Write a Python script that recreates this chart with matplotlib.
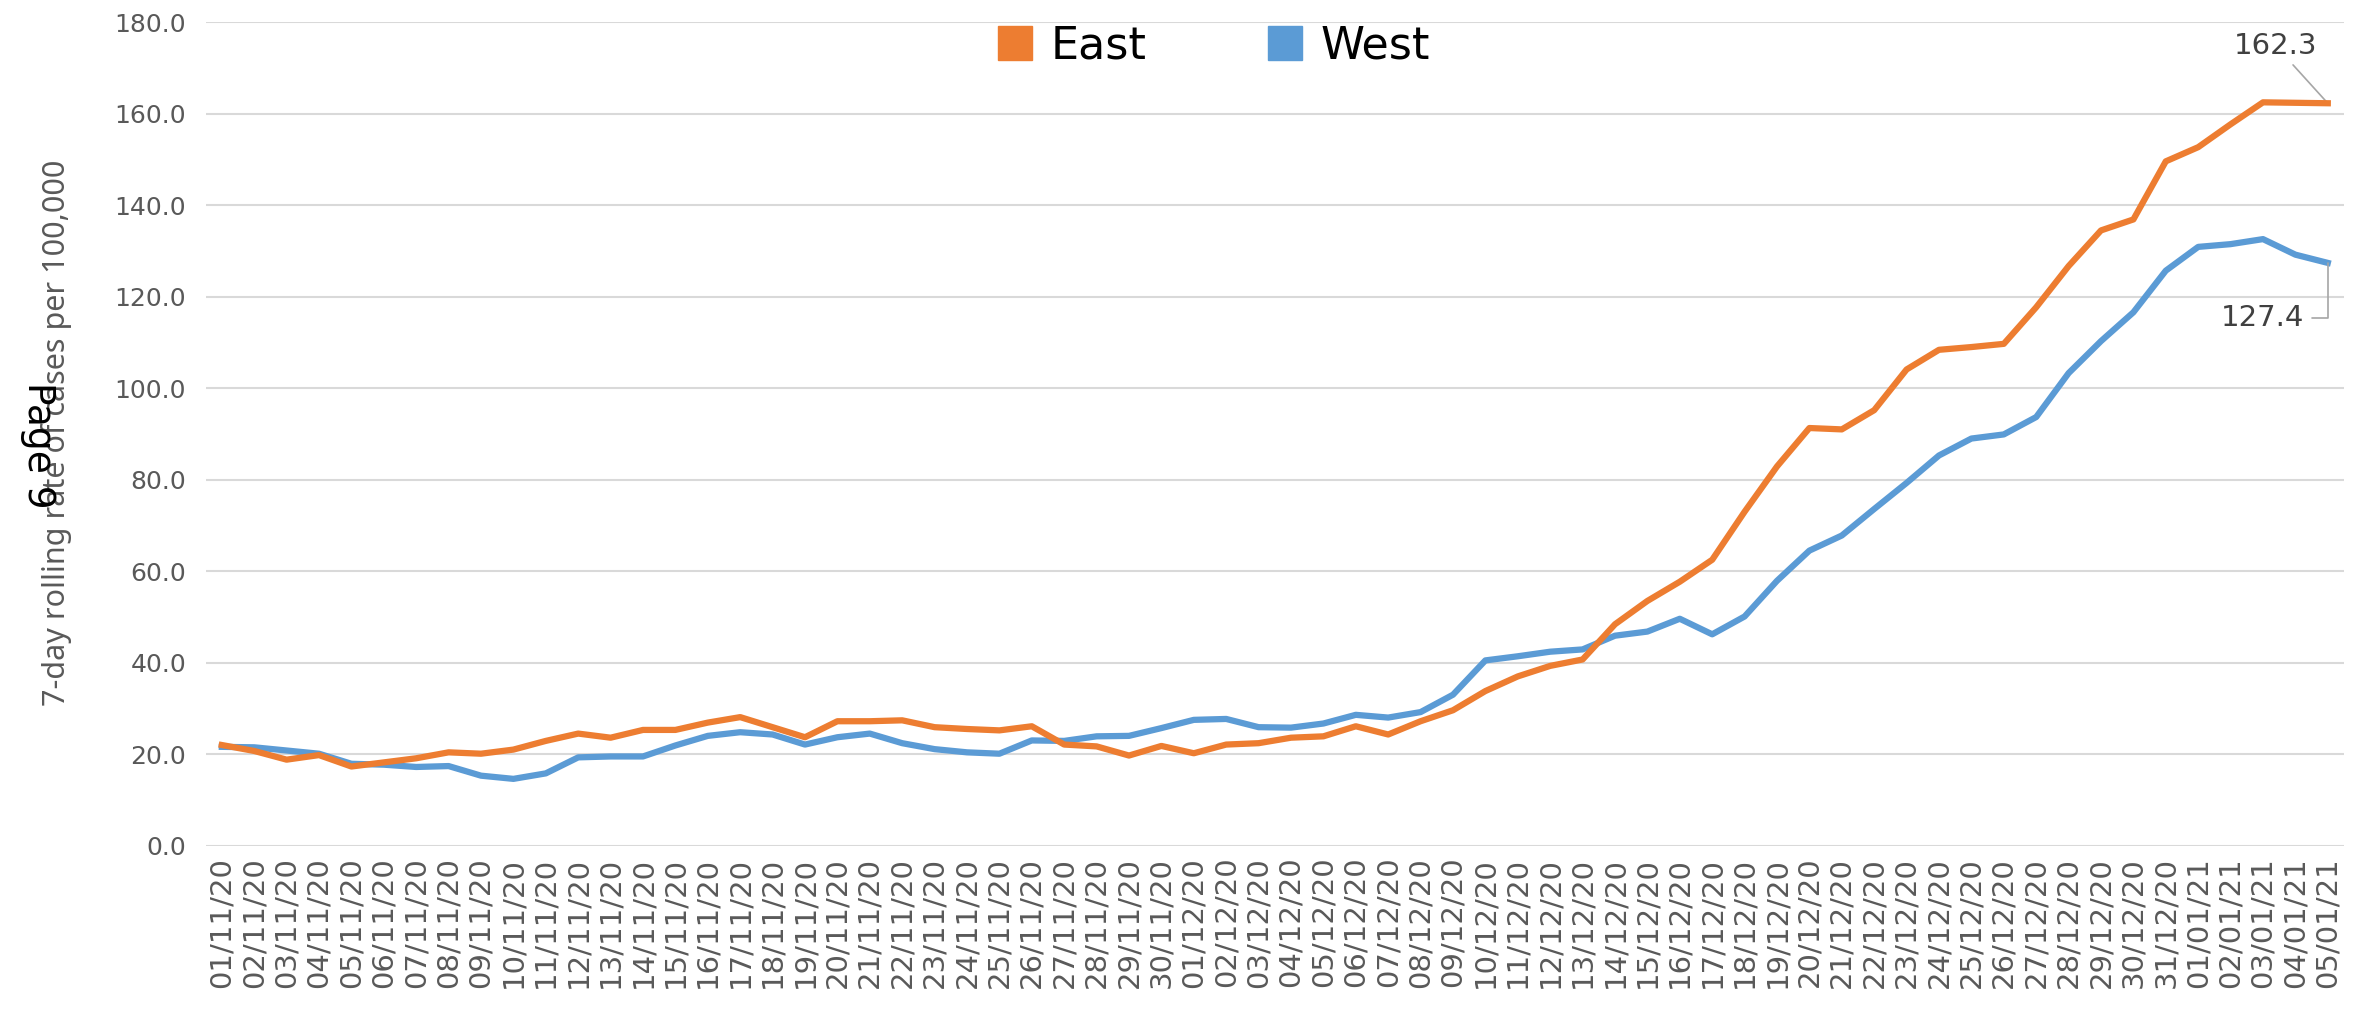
import matplotlib
matplotlib.use("Agg")
import matplotlib.pyplot as plt
from matplotlib.lines import Line2D
import pandas as pd

# 7-day rolling case rates, 01/11/20 .. 05/01/21
dates = pd.date_range("2020-11-01", "2021-01-05", freq="D").strftime("%d/%m/%y").tolist()

east = [22.0, 20.7, 18.8, 19.8, 17.3, 18.2, 19.1, 20.4, 20.1, 21.0,
        22.9, 24.5, 23.6, 25.3, 25.3, 26.9, 28.1, 25.9, 23.7, 27.2,
        27.2, 27.4, 25.9, 25.5, 25.2, 26.1, 22.1, 21.7, 19.7, 21.8,
        20.2, 22.1, 22.4, 23.6, 23.9, 26.1, 24.3, 27.2, 29.6, 33.8,
        37.0, 39.3, 40.7, 48.4, 53.5, 57.7, 62.5, 73.0, 82.9, 91.3,
        91.0, 95.2, 104.1, 108.4, 109.0, 109.7, 117.7, 126.7, 134.5, 136.9,
        149.6, 152.7, 157.7, 162.5, 162.4, 162.3]

west = [21.6, 21.5, 20.8, 20.1, 17.9, 17.7, 17.2, 17.4, 15.3, 14.6,
        15.8, 19.3, 19.5, 19.5, 21.9, 24.0, 24.8, 24.3, 22.1, 23.7,
        24.5, 22.4, 21.1, 20.4, 20.1, 23.0, 22.9, 23.9, 24.0, 25.7,
        27.5, 27.7, 25.9, 25.8, 26.7, 28.6, 28.0, 29.2, 33.0, 40.5,
        41.4, 42.4, 42.9, 45.9, 46.8, 49.6, 46.2, 50.1, 57.9, 64.5,
        67.8, 73.6, 79.3, 85.3, 89.0, 89.9, 93.7, 103.3, 110.3, 116.6,
        125.7, 130.9, 131.5, 132.6, 129.2, 127.4]

EAST_C = "#ED7D31"
WEST_C = "#5B9BD5"
TXT_C = "#595959"

fig = plt.figure(figsize=(23.66, 10.13), dpi=100)
ax = fig.add_axes([0.0869, 0.1652, 0.9038, 0.8128])

x = list(range(len(dates)))
ax.plot(x, west, color=WEST_C, lw=4.5, solid_joinstyle="round", zorder=3)
ax.plot(x, east, color=EAST_C, lw=4.5, solid_joinstyle="round", zorder=4)

ax.set_xlim(-0.5, len(dates) - 0.5)
ax.set_ylim(0, 180)
ax.set_yticks(range(0, 181, 20))
ax.set_yticklabels([f"{v:.1f}" for v in range(0, 181, 20)], fontsize=18, color=TXT_C)
ax.set_xticks(x)
ax.set_xticklabels(dates, rotation=90, fontsize=21, color=TXT_C, va="top")
ax.tick_params(length=0, pad=8)
ax.tick_params(axis="y", pad=14)
ax.grid(axis="y", color="#D9D9D9", lw=1.5)
ax.set_axisbelow(True)
for s in ax.spines.values():
    s.set_visible(False)

# end-point labels
ax.annotate(f"{east[-1]:.1f}", xy=(x[-1], east[-1]), xytext=(63.4, 174.8),
            ha="center", va="center", fontsize=21, color="#404040",
            arrowprops=dict(arrowstyle="-", color="#A6A6A6", lw=1.2, shrinkA=2, shrinkB=0))
ax.annotate(f"{west[-1]:.1f}", xy=(x[-1], west[-1]), xytext=(62.97, 115.4),
            ha="center", va="center", fontsize=21, color="#404040",
            arrowprops=dict(arrowstyle="-", color="#A6A6A6", lw=1.2, shrinkA=4, shrinkB=0,
                            connectionstyle="angle,angleA=0,angleB=90,rad=0"))

handles = [Line2D([], [], ls="", marker="s", markersize=24, color=EAST_C),
           Line2D([], [], ls="", marker="s", markersize=24, color=WEST_C)]
fig.legend(handles, ["East", "West"], loc="center", bbox_to_anchor=(0.512, 0.955),
           ncol=2, frameon=False, fontsize=32, handletextpad=0.3, columnspacing=2.6,
           handlelength=1.0)

# axis title and the stray page number, both left of the axis
fig.text(57 / 2366, 1 - 433 / 1013, "7-day rolling rate of cases per 100,000",
         rotation=90, fontsize=22, color=TXT_C, family="Noto Sans",
         ha="center", va="center")
fig.text(38 / 2366, 1 - 445 / 1013, "Page 9", rotation=270, fontsize=27,
         color="black", ha="center", va="center")

fig.savefig("out.png", dpi=100)
